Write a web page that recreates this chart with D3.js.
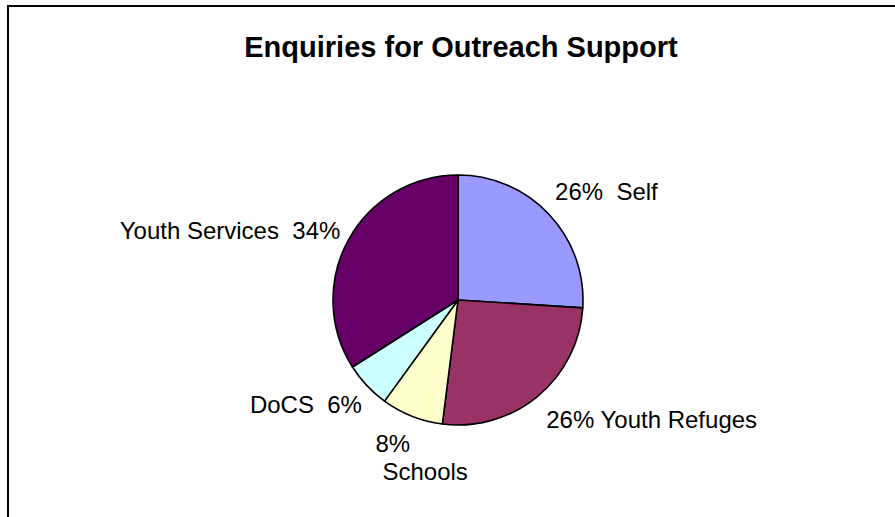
<!DOCTYPE html>
<html>
<head>
<meta charset="utf-8">
<script src="https://cdn.jsdelivr.net/npm/d3@7/dist/d3.min.js"></script>
<style>
  html, body { margin: 0; padding: 0; background: #ffffff; }
  svg { display: block; }
  text { font-family: "Liberation Sans", Arial, sans-serif; fill: #000; }
</style>
</head>
<body>
<svg id="chart" width="895" height="517"></svg>
<script>
// Enquiry sources, clockwise from 12 o'clock
const categories = ["Self", "Youth Refuges", "Schools", "DoCS", "Youth Services"];
const shares = [26, 26, 8, 6, 34];
const colours = ["#9999FF", "#993366", "#FFFFCC", "#CCFFFF", "#660066"];
// Labels that break onto two lines (percentage above name)
const wrappedLabels = ["Schools"];
const title = "Enquiries for Outreach Support";

// Hand adjustments to the automatic label placement (layout only)
const labelNudge = {
  "Self":           { dx: -5, dy: -1, sep: "  " },
  "Youth Refuges":  { dx: -1, dy: 3,  sep: " " },
  "Schools":        { dx: 0,  dy: 4,  lineDx: [-31, -24] },
  "DoCS":           { dx: 6,  dy: 1,  sep: "  " },
  "Youth Services": { dx: 5,  dy: 6,  sep: "  " }
};

const width = 895, height = 517;
const svg = d3.select("#chart");

svg.append("rect").attr("width", width).attr("height", height).attr("fill", "#fff");

// Chart-area frame (runs past the right and bottom edges)
svg.append("rect")
  .attr("x", 8).attr("y", 6)
  .attr("width", 1000).attr("height", 1000)
  .attr("fill", "none").attr("stroke", "#000").attr("stroke-width", 2);

svg.append("text")
  .attr("x", 461).attr("y", 57)
  .attr("text-anchor", "middle")
  .style("font-size", "29px").style("font-weight", "bold")
  .text(title);

const cx = 458, cy = 300, radius = 125;
const g = svg.append("g").attr("transform", `translate(${cx},${cy})`);

const total = d3.sum(shares);
const data = categories.map((c, i) => ({ name: c, value: shares[i], colour: colours[i] }));
const pie = d3.pie().sort(null).value(d => d.value).startAngle(0).endAngle(2 * Math.PI);
const arc = d3.arc().innerRadius(0).outerRadius(radius);
const arcs = pie(data);

g.selectAll("path.slice")
  .data(arcs)
  .join("path")
  .attr("class", "slice")
  .attr("d", arc)
  .attr("fill", d => d.data.colour)
  .attr("stroke", "#000")
  .attr("stroke-width", 1.6)
  .attr("stroke-linejoin", "round");

// Data labels: anchored just outside the rim on each slice's mid-angle
const fontSize = 24, lineH = 27, wrapLineH = 28, labelR = radius + 15;
const fmt = d => Math.round(d.value / total * 100) + "%";

arcs.forEach(a => {
  const mid = (a.startAngle + a.endAngle) / 2;
  const s = Math.sin(mid), c = Math.cos(mid);
  const nudge = labelNudge[a.data.name] || { dx: 0, dy: 0, sep: " " };
  const ax = s * labelR + nudge.dx, ay = -c * labelR + nudge.dy;
  const wrapped = wrappedLabels.includes(a.data.name);
  const lines = wrapped ? [fmt(a.data), a.data.name]
    : (s >= 0 ? [fmt(a.data) + nudge.sep + a.data.name]
              : [a.data.name + nudge.sep + fmt(a.data)]);
  const anchor = wrapped ? "start" : (s >= 0 ? "start" : "end");
  const lh = wrapped ? wrapLineH : lineH;
  const boxH = lines.length * lh;
  // vertical placement slides from box-above (top) to box-below (bottom)
  const top = ay - boxH * (1 + c) / 2;
  const t = g.append("text")
    .attr("text-anchor", anchor)
    .style("font-size", fontSize + "px")
    .style("white-space", "pre")
    .attr("xml:space", "preserve");
  lines.forEach((ln, i) => {
    const ldx = nudge.lineDx ? nudge.lineDx[i] : 0;
    t.append("tspan")
      .attr("x", ax + ldx)
      .attr("y", top + i * lh + 20)
      .text(ln);
  });
});
</script>
</body>
</html>
